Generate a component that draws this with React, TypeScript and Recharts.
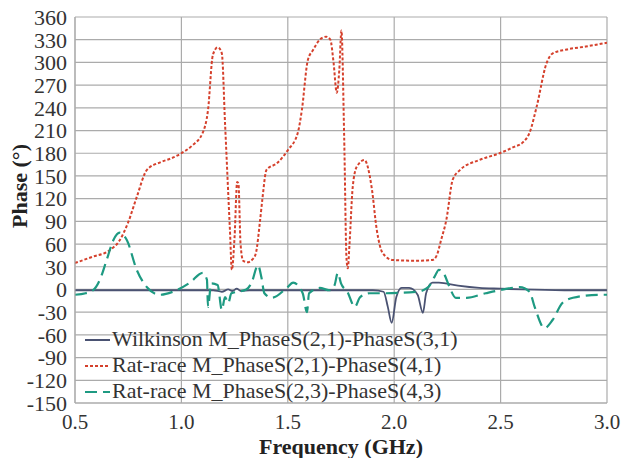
import React from "react";
import {
  LineChart,
  Line,
  XAxis,
  YAxis,
  CartesianGrid,
  Legend,
} from "recharts";

// frequency (GHz) / phase (deg)
const wilkFreq = [0.5, 0.8, 1.0, 1.15, 1.19, 1.22, 1.24, 1.26, 1.28, 1.32, 1.5, 1.7, 1.9, 1.95, 1.97, 1.988, 2.01, 2.035, 2.07, 2.11, 2.135, 2.15, 2.18, 2.21, 2.3, 2.4, 2.5, 2.6, 2.8, 3.0];
const wilkPhase = [-1, -1, -1, -1, -3, 0, -2, 1, -2, -1, -1, -1, -1, -3, -23, -44, -10, 2, 2, -7, -31, -5, 9, 9, 5, 2, 1, 0, -1, -1];

const ratFreq = [0.5, 0.58, 0.664, 0.71, 0.749, 0.79, 0.838, 0.9, 0.95, 1.0, 1.05, 1.1, 1.125, 1.148, 1.171, 1.19, 1.205, 1.228, 1.237, 1.25, 1.262, 1.268, 1.278, 1.29, 1.31, 1.335, 1.35, 1.37, 1.38, 1.4, 1.45, 1.5, 1.547, 1.566, 1.594, 1.618, 1.65, 1.68, 1.7, 1.715, 1.73, 1.742, 1.752, 1.765, 1.776, 1.782, 1.79, 1.805, 1.824, 1.86, 1.894, 1.918, 1.946, 1.993, 2.1, 2.18, 2.2, 2.22, 2.245, 2.275, 2.31, 2.4, 2.495, 2.56, 2.603, 2.636, 2.669, 2.716, 2.745, 2.81, 2.9, 3.0];
const ratPhase = [35, 43, 52, 65, 88, 122, 158, 168, 173, 180, 190, 207, 237, 310, 320, 312, 220, 79, 26, 70, 142, 140, 60, 38, 36, 40, 48, 92, 118, 158, 167, 184, 207, 237, 303, 316, 330, 334, 330, 300, 260, 290, 342, 200, 40, 28, 60, 135, 162, 171, 135, 79, 48, 39, 38, 39, 45, 65, 92, 145, 158, 171, 180, 188, 194, 207, 241, 299, 312, 317, 321, 326];

const rat23Freq = [0.5, 0.55, 0.585, 0.617, 0.65, 0.68, 0.71, 0.744, 0.79, 0.838, 0.9, 0.96, 1.04, 1.1, 1.12, 1.125, 1.14, 1.17, 1.19, 1.205, 1.22, 1.235, 1.265, 1.305, 1.33, 1.36, 1.376, 1.39, 1.425, 1.495, 1.525, 1.57, 1.59, 1.6, 1.65, 1.697, 1.72, 1.735, 1.75, 1.78, 1.815, 1.84, 1.885, 1.945, 2.11, 2.16, 2.19, 2.21, 2.237, 2.26, 2.29, 2.34, 2.43, 2.495, 2.59, 2.636, 2.66, 2.706, 2.745, 2.79, 2.84, 2.965, 3.0];
const rat23Phase = [-7, -5, -1, 13, 40, 65, 75, 65, 26, 3, -7, -3, 9, 22, 13, -23, 8, 6, -27, -10, -18, -5, -3, 0, 9, 32, 16, -5, -11, 2, 9, -5, -30, -5, 2, -1, 6, 22, 8, -3, -23, -10, -5, -5, -3, 3, 17, 26, 19, 3, -11, -11, -5, -1, 3, -3, -23, -51, -40, -18, -11, -7, -7];

const xTicks = [0.5, 1.0, 1.5, 2.0, 2.5, 3.0];
const yTicks = [-150, -120, -90, -60, -30, 0, 30, 60, 90, 120, 150, 180, 210, 240, 270, 300, 330, 360];

const toPoints = (fs: number[], ps: number[]) => fs.map((f, i) => ({ f, p: ps[i] }));

const series = [
  { name: "Wilkinson M_PhaseS(2,1)-PhaseS(3,1)", data: toPoints(wilkFreq, wilkPhase), color: "#4a5272", dash: undefined as string | undefined, width: 1.8 },
  { name: "Rat-race M_PhaseS(2,1)-PhaseS(4,1)", data: toPoints(ratFreq, ratPhase), color: "#d5402c", dash: "3 2", width: 2 },
  { name: "Rat-race M_PhaseS(2,3)-PhaseS(4,3)", data: toPoints(rat23Freq, rat23Phase), color: "#1e9a82", dash: "12 6", width: 2.2 },
];

const font = "Liberation Serif";

function LegendBox() {
  return (
    <div style={{ fontFamily: font, fontSize: 22, color: "#333", lineHeight: "26px" }}>
      {series.map((s) => (
        <div key={s.name} style={{ display: "flex", alignItems: "center", whiteSpace: "nowrap" }}>
          <svg width={27} height={26} style={{ marginRight: 1 }}>
            <line x1={1} y1={14} x2={26} y2={14} stroke={s.color} strokeWidth={2} strokeDasharray={s.dash} />
          </svg>
          <span>{s.name}</span>
        </div>
      ))}
    </div>
  );
}

export default function App() {
  return (
    <div style={{ position: "absolute", left: 0, top: 0, width: 624, height: 458, background: "#fff" }}>
      <LineChart width={624} height={458} margin={{ top: 17, right: 17, bottom: 0, left: 15 }}>
        <CartesianGrid stroke="#ababab" strokeWidth={1.2} />
        <XAxis
          dataKey="f"
          type="number"
          domain={[0.5, 3]}
          ticks={xTicks}
          interval={0}
          tickFormatter={(v: number) => v.toFixed(1)}
          allowDataOverflow
          height={55}
          axisLine={{ stroke: "#ababab" }}
          tickLine={false}
          tickMargin={5}
          tick={{ fontFamily: font, fontSize: 21, fill: "#333" }}
          label={({ viewBox }: any) => (
            <text
              x={viewBox.x + viewBox.width / 2}
              y={viewBox.y + 51}
              textAnchor="middle"
              fontFamily={font}
              fontSize={22}
              fontWeight="bold"
              fill="#222"
            >
              Frequency (GHz)
            </text>
          )}
        />
        <YAxis
          dataKey="p"
          type="number"
          domain={[-150, 360]}
          ticks={yTicks}
          interval={0}
          allowDataOverflow
          width={60}
          axisLine={{ stroke: "#ababab" }}
          tickLine={false}
          tick={{ fontFamily: font, fontSize: 22, fill: "#333" }}
          label={() => (
            <text
              x={27}
              y={186}
              transform="rotate(-90 27 186)"
              textAnchor="middle"
              fontFamily={font}
              fontSize={22}
              fontWeight="bold"
              fill="#222"
            >
              Phase (°)
            </text>
          )}
        />
        <Legend
          layout="vertical"
          align="center"
          verticalAlign="middle"
          wrapperStyle={{ left: 84, top: 326, width: "auto" }}
          content={() => <LegendBox />}
        />
        {series.map((s) => (
          <Line
            key={s.name}
            data={s.data}
            dataKey="p"
            name={s.name}
            type="monotone"
            stroke={s.color}
            strokeWidth={s.width}
            strokeDasharray={s.dash}
            dot={false}
            isAnimationActive={false}
          />
        ))}
      </LineChart>
    </div>
  );
}
